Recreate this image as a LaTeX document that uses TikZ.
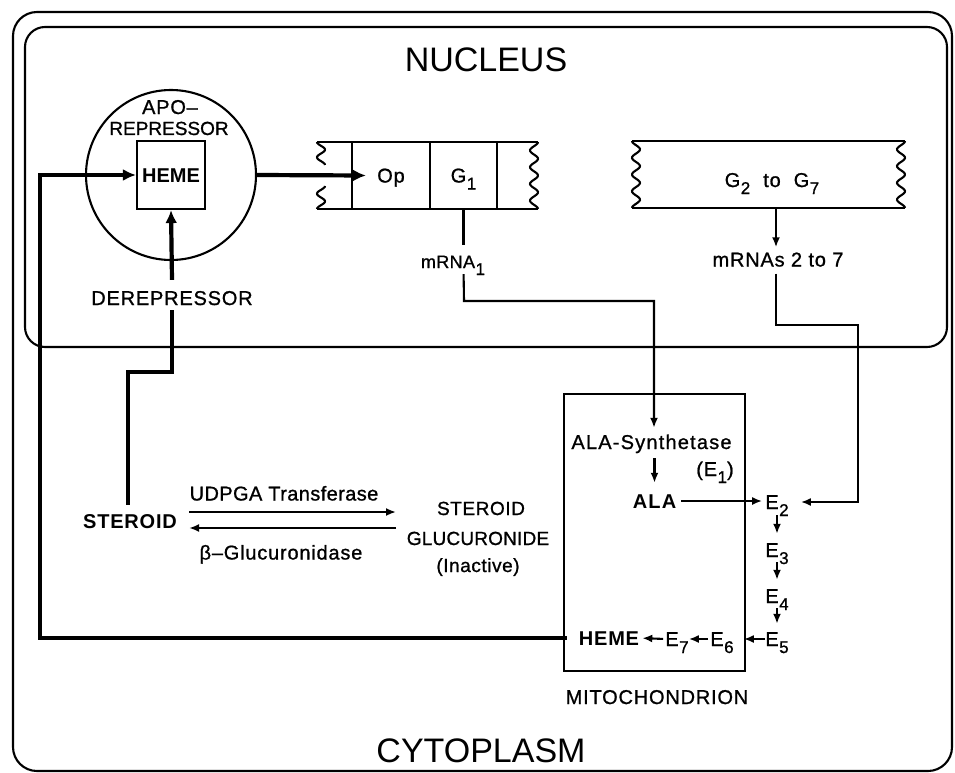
\documentclass[tikz,border=0pt]{standalone}
\usepackage{fontspec}
\setmainfont{Liberation Sans}
\usetikzlibrary{arrows.meta}
\newcommand{\lsub}[1]{\hspace{0.5pt}\raisebox{-7pt}{\fontsize{17}{17}\selectfont\addfontfeatures{FakeBold=1}#1}}
\newcommand{\ff}[2]{\fontsize{#1}{#1}\selectfont\addfontfeatures{LetterSpace=#2,FakeBold=1}}
\newcommand{\bff}[2]{\fontsize{#1}{#1}\selectfont\bfseries\addfontfeatures{LetterSpace=#2}}
\begin{document}
\begin{tikzpicture}[x=1pt,y=-1pt,
  thinl/.style={line width=2.1pt},
  thickl/.style={line width=4.2pt},
  arr/.style={-{Latex[length=10pt,width=8pt]}},
  tarr/.style={-{Latex[length=13pt,width=12pt]}},
  txt/.style={inner sep=0pt,text height=14pt,text depth=0pt,font=\ff{20}{4}},
  btxt/.style={inner sep=0pt,text height=14pt,text depth=0pt,font=\bff{20}{4}},
  big/.style={inner sep=0pt,text height=24pt,text depth=0pt,font=\fontsize{34}{34}\selectfont},
  cell/.style={draw,thinl,minimum height=67pt,inner sep=0pt,text height=14pt,text depth=0pt,font=\ff{20}{4}}
]
\useasboundingbox (0,0) rectangle (955,773);
% compartments
\draw[thinl,rounded corners=24pt] (13,12) rectangle (952,771);
\draw[thinl,rounded corners=20pt] (25,27) rectangle (947,347);
\node[big] (nuc) at (486,60) {NUCLEUS};
\node[big] (cyt) at (481,750) {CYTOPLASM};
% aporepressor
\node[circle,draw,thinl,minimum size=170pt,inner sep=0pt] (apo) at (171,175) {};
\node[txt] (apot) at (170,107) {APO–};
\node[txt,font=\ff{19}{0}] (rept) at (169,128) {REPRESSOR};
\node[draw,thinl,minimum size=68pt,inner sep=0pt,text height=14pt,text depth=0pt,font=\bff{20}{0}] (heme) at (171,175) {HEME};
\node[txt] (derep) at (172,298) {DEREPRESSOR};
% DNA strip 1
\node[cell,minimum width=78pt] (op) at (391,175.5) {Op};
\node[cell,minimum width=67pt] (g1) at (463.5,175.5) {G\lsub{1}};
\draw[thinl] (317,142) -- (538,142);
\draw[thinl] (317,209) -- (538,209);
\draw[thinl] (497,142) -- (497,209);
\draw[thinl] plot[domain=0:1,samples=60,smooth] ({534+4*cos(4*360*\x)},{142+67*\x});
\draw[thinl] plot[domain=0:1,samples=30,smooth] ({321-4*cos(540*\x)},{142+23*\x});
\draw[thinl] plot[domain=0:1,samples=30,smooth] ({321-4*cos(540*(1-\x))},{186+23*\x});
\node[txt,font=\ff{18}{2}] (m1) at (453,261) {mRNA\lsub{1}};
% DNA strip 2
\draw[thinl] (632,141) -- (905,141);
\draw[thinl] (632,208) -- (905,208);
\draw[thinl] plot[domain=0:1,samples=60,smooth] ({636-4*cos(4*360*\x)},{141+67*\x});
\draw[thinl] plot[domain=0:1,samples=60,smooth] ({901+4*cos(4*360*\x)},{141+67*\x});
\node[txt] (g27) at (772,180) {G\lsub{2}\hspace{13pt}to\hspace{13pt}G\lsub{7}};
\coordinate (s2b) at (776,208);
\node[txt] (m27) at (778,259.5) {mRNAs 2 to 7};
% mitochondrion
\node[draw,thinl,minimum width=181pt,minimum height=277pt,inner sep=0pt] (mito) at (654.5,532.5) {};
\node[txt] (mitot) at (657,697) {MITOCHONDRION};
\node[txt,font=\ff{20}{6}] (alas) at (651.5,442) {ALA-Synthetase};
\node[txt] (e1) at (715,469) {(E\lsub{1})};
\node[btxt,font=\bff{20}{6}] (ala) at (654.5,501) {ALA};
\node[txt] (e2) at (777,502) {E\lsub{2}};
\node[txt] (e3) at (777,550) {E\lsub{3}};
\node[txt] (e4) at (777,596) {E\lsub{4}};
\node[txt] (e5) at (777,639) {E\lsub{5}};
\node[txt] (e6) at (722,639) {E\lsub{6}};
\node[txt] (e7) at (677,639) {E\lsub{7}};
\node[btxt] (hm) at (609,638) {HEME};
% steroid
\node[btxt] (st) at (130,521) {STEROID};
\node[txt,font=\ff{20}{2}] (udp) at (284,493.5) {UDPGA Transferase};
\node[txt] (beta) at (281,552.5) {β–Glucuronidase};
\node[txt,font=\ff{19}{3}] (sg1) at (481,508) {STEROID};
\node[txt,font=\ff{19}{1}] (sg2) at (478,538) {GLUCURONIDE};
\node[txt,font=\ff{19}{3}] (sg3) at (478,565) {(Inactive)};
% connectors
\coordinate (fb1) at (40,638);
\coordinate (fb2) at (40,175);
\draw[thickl,tarr] ([xshift=-12pt]hm.west) -- (fb1) -- (fb2) -- (heme.west);
\draw[thickl,tarr] (apo.east) -- ([xshift=15pt]op.west);
\draw[thickl,tarr] ([yshift=11pt]derep.north) -- (heme.south);
\coordinate (dr1) at (172,372);
\coordinate (dr2) at (128,372);
\coordinate (dr3) at (128,505);
\draw[thickl] ([yshift=-5pt]derep.south) -- (dr1) -- (dr2) -- (dr3);
\draw[thinl,shorten >=9pt] (g1.south) -- (g1.south |- m1.north);
\coordinate (m1a) at (464,301);
\coordinate (m1b) at (654,301);
\draw[thinl,arr,shorten <=6pt,shorten >=7pt] (g1.south |- m1.south) -- (m1a) -- (m1b) -- (m1b |- alas.north);
\draw[thinl,arr,shorten >=5pt] (s2b) -- (s2b |- m27.north);
\coordinate (m2a) at (776,325);
\coordinate (m2b) at (858,325);
\draw[thinl,arr,shorten <=7pt,shorten >=12pt] (s2b |- m27.south) -- (m2a) -- (m2b) -- (m2b |- e2.east) -- (e2.east);
\draw[thinl,arr,shorten <=5pt,shorten >=3pt] (ala.east) -- (ala.east -| e2.west);
\draw[thinl,arr,shorten <=9pt,shorten >=11pt] (ala.north |- alas.south) -- (ala.north);
\draw[thinl,arr,shorten <=6pt,shorten >=9pt] (e2.south) -- (e3.north);
\draw[thinl,arr,shorten <=5pt,shorten >=9pt] (e3.south) -- (e4.north);
\draw[thinl,arr,shorten <=5pt,shorten >=8pt] (e4.south) -- (e5.north);
\draw[thinl,arr,shorten >=10pt] (e5.west) -- (e6.east);
\draw[thinl,arr,shorten <=2pt] (e6.west) -- (e7.east);
\draw[thinl,arr,shorten <=2pt,shorten >=3pt] (e7.west) -- (hm.east);
\draw[thinl,arr] ([shift={(12pt,9pt)}]st.east) -- ++(207pt,0pt);
\draw[thinl,arr] ([shift={(219pt,-7pt)}]st.east) -- ++(-207pt,0pt);
\end{tikzpicture}
\end{document}
